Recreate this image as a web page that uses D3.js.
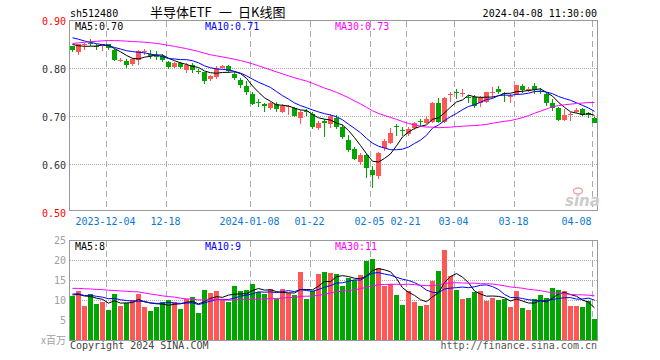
<!DOCTYPE html>
<html>
<head>
<meta charset="utf-8">
<script src="https://cdn.jsdelivr.net/npm/d3@7"></script>
<style>
  body { margin: 0; background: #fff; }
  text { font-family: 'DejaVu Sans Mono', 'Liberation Mono', monospace; font-size: 10px; }
</style>
</head>
<body>
<div id="kline"></div>
<script>
// trading days shown on the chart
var dates = [
  '2023-11-24', '2023-11-27', '2023-11-28', '2023-11-29', '2023-11-30', '2023-12-01',
  '2023-12-04', '2023-12-05', '2023-12-06', '2023-12-07', '2023-12-08',
  '2023-12-11', '2023-12-12', '2023-12-13', '2023-12-14', '2023-12-15',
  '2023-12-18', '2023-12-19', '2023-12-20', '2023-12-21', '2023-12-22',
  '2023-12-25', '2023-12-26', '2023-12-27', '2023-12-28', '2023-12-29',
  '2024-01-02', '2024-01-03', '2024-01-04', '2024-01-05',
  '2024-01-08', '2024-01-09', '2024-01-10', '2024-01-11', '2024-01-12',
  '2024-01-15', '2024-01-16', '2024-01-17', '2024-01-18', '2024-01-19',
  '2024-01-22', '2024-01-23', '2024-01-24', '2024-01-25', '2024-01-26',
  '2024-01-29', '2024-01-30', '2024-01-31', '2024-02-01', '2024-02-02',
  '2024-02-05', '2024-02-06', '2024-02-07', '2024-02-08',
  '2024-02-19', '2024-02-20', '2024-02-21', '2024-02-22', '2024-02-23',
  '2024-02-26', '2024-02-27', '2024-02-28', '2024-02-29', '2024-03-01',
  '2024-03-04', '2024-03-05', '2024-03-06', '2024-03-07', '2024-03-08',
  '2024-03-11', '2024-03-12', '2024-03-13', '2024-03-14', '2024-03-15',
  '2024-03-18', '2024-03-19', '2024-03-20', '2024-03-21', '2024-03-22',
  '2024-03-25', '2024-03-26', '2024-03-27', '2024-03-28', '2024-03-29',
  '2024-04-01', '2024-04-02', '2024-04-03', '2024-04-08'
]

var opens = [
  0.845, 0.833, 0.847, 0.853, 0.846, 0.846, 0.849, 0.838, 0.815, 0.815,
  0.809, 0.817, 0.834, 0.829, 0.828, 0.826, 0.812, 0.802, 0.810, 0.796,
  0.806, 0.793, 0.791, 0.777, 0.782, 0.801, 0.804, 0.788, 0.775, 0.763,
  0.746, 0.729, 0.724, 0.716, 0.725, 0.708, 0.718, 0.716, 0.695, 0.711,
  0.705, 0.675, 0.689, 0.683, 0.695, 0.677, 0.650, 0.632, 0.604, 0.618,
  0.588, 0.575, 0.633, 0.644, 0.679, 0.671, 0.662, 0.675, 0.689, 0.685,
  0.688, 0.727, 0.688, 0.743, 0.749, 0.746, 0.740, 0.740, 0.727, 0.730,
  0.748, 0.756, 0.748, 0.741, 0.745, 0.762, 0.753, 0.762, 0.752, 0.746,
  0.728, 0.717, 0.692, 0.704, 0.709, 0.715, 0.707, 0.696
]
var highs = [
  0.846, 0.850, 0.852, 0.860, 0.849, 0.851, 0.851, 0.840, 0.820, 0.818,
  0.821, 0.838, 0.840, 0.838, 0.835, 0.829, 0.814, 0.812, 0.813, 0.810,
  0.810, 0.798, 0.792, 0.786, 0.805, 0.807, 0.807, 0.791, 0.779, 0.772,
  0.749, 0.736, 0.728, 0.730, 0.729, 0.726, 0.723, 0.719, 0.712, 0.714,
  0.709, 0.690, 0.693, 0.705, 0.702, 0.682, 0.660, 0.636, 0.623, 0.620,
  0.595, 0.625, 0.653, 0.674, 0.683, 0.677, 0.677, 0.688, 0.693, 0.700,
  0.730, 0.737, 0.740, 0.751, 0.756, 0.757, 0.744, 0.744, 0.742, 0.749,
  0.761, 0.762, 0.751, 0.746, 0.765, 0.767, 0.760, 0.768, 0.758, 0.748,
  0.736, 0.719, 0.714, 0.708, 0.716, 0.717, 0.709, 0.698
]
var lows = [
  0.833, 0.828, 0.838, 0.845, 0.837, 0.835, 0.838, 0.815, 0.812, 0.800,
  0.805, 0.807, 0.827, 0.819, 0.816, 0.812, 0.797, 0.799, 0.797, 0.790,
  0.790, 0.787, 0.767, 0.773, 0.777, 0.799, 0.789, 0.776, 0.758, 0.744,
  0.722, 0.718, 0.709, 0.713, 0.709, 0.706, 0.703, 0.697, 0.683, 0.701,
  0.672, 0.670, 0.657, 0.674, 0.672, 0.652, 0.626, 0.608, 0.597, 0.570,
  0.549, 0.568, 0.627, 0.641, 0.658, 0.658, 0.659, 0.670, 0.680, 0.683,
  0.686, 0.685, 0.686, 0.730, 0.735, 0.740, 0.727, 0.716, 0.718, 0.727,
  0.737, 0.746, 0.730, 0.727, 0.743, 0.748, 0.751, 0.745, 0.745, 0.721,
  0.711, 0.690, 0.689, 0.689, 0.707, 0.700, 0.696, 0.685
]
var closes = [
  0.837, 0.849, 0.849, 0.849, 0.845, 0.849, 0.842, 0.817, 0.816, 0.807,
  0.819, 0.835, 0.836, 0.824, 0.823, 0.816, 0.803, 0.810, 0.802, 0.806,
  0.796, 0.792, 0.773, 0.784, 0.800, 0.805, 0.793, 0.779, 0.765, 0.751,
  0.725, 0.728, 0.721, 0.728, 0.714, 0.721, 0.720, 0.699, 0.709, 0.709,
  0.678, 0.686, 0.685, 0.700, 0.678, 0.657, 0.629, 0.611, 0.618, 0.592,
  0.578, 0.622, 0.648, 0.665, 0.677, 0.670, 0.672, 0.686, 0.687, 0.693,
  0.727, 0.688, 0.738, 0.746, 0.747, 0.748, 0.738, 0.721, 0.740, 0.749,
  0.750, 0.750, 0.746, 0.742, 0.765, 0.755, 0.757, 0.755, 0.751, 0.727,
  0.717, 0.692, 0.703, 0.705, 0.713, 0.702, 0.702, 0.685
]
// volume, millions
var volumes = [
  11.0, 12.25, 8.5, 11.5, 9.0, 9.6, 7.5, 11.5, 8.5, 9.3,
  10.0, 11.5, 8.25, 7.25, 8.25, 9.6, 10.0, 9.6, 7.75, 10.2,
  10.75, 6.8, 12.5, 11.8, 12.25, 10.0, 9.6, 13.5, 12.25, 12.5,
  14.0, 12.1, 11.5, 12.7, 10.2, 12.8, 11.8, 11.25, 17.1, 10.25,
  12.25, 16.5, 17.1, 16.8, 16.5, 13.5, 15.4, 15.0, 16.25, 19.8,
  20.25, 17.9, 13.5, 13.9, 11.25, 8.75, 12.25, 9.6, 8.5, 8.75,
  14.8, 17.25, 22.5, 16.0, 12.5, 10.25, 10.5, 12.0, 12.25, 9.75,
  10.5, 10.0, 10.25, 8.25, 12.25, 8.0, 7.5, 10.25, 11.25, 10.5,
  13.0, 12.5, 12.2, 8.5, 8.5, 8.25, 9.75, 5.25
]

// the 29 sessions before the first candle, only used for the moving averages
var priorCloses = [
  0.805, 0.812, 0.818, 0.815, 0.822, 0.826, 0.820, 0.825, 0.830,
  0.845, 0.852, 0.860, 0.858, 0.866, 0.870, 0.868, 0.875, 0.872, 0.878, 0.882,
  0.880, 0.885, 0.878, 0.872, 0.870,
  0.862, 0.855, 0.848, 0.843
]
var priorVolumes = [
  12, 11.5, 13, 12.5, 11, 12, 13.5, 12, 11.5, 12.5,
  14, 16, 15.5, 14.5, 17, 15, 14, 16, 15, 13.5,
  12, 12.5, 11, 11.5, 11.75,
  11.5, 10.5, 12, 11.25
]

var tickDates = ['2023-12-04', '2023-12-18', '2024-01-08', '2024-01-22', '2024-02-05', '2024-02-21', '2024-03-04', '2024-03-18', '2024-04-08']
var tickLabels = ['2023-12-04', '12-18', '2024-01-08', '01-22', '02-05', '02-21', '03-04', '03-18', '04-08']
var priceTicks = [0.9, 0.8, 0.7, 0.6, 0.5]
var volTicks = [25, 20, 15, 10, 5]
var maPeriods = [5, 10, 30]
var maColors = ['#000000', '#0000ff', '#ff00ff']
var titleParts = ['半导体ETF', '一', '日K线图']

var upColor = '#ff5656'
var downColor = '#00a600'
var gridColor = '#aaaaaa'

var svg = d3.select('#kline').append('svg').attr('width', 660).attr('height', 360)

// scales
var x = d3.scaleBand().domain(dates).range([69.5, 597.5]).paddingInner(1 / 6).paddingOuter(1 / 12)
var y = d3.scaleLinear().domain([0.5, 0.9]).range([212, 20])
var yVol = d3.scaleLinear().domain([0, 25]).range([340, 240])

function movingAverage(prior, values, n) {
  var all = prior.concat(values)
  return values.map(function (v, i) {
    var end = prior.length + i + 1
    return d3.mean(all.slice(end - n, end))
  })
}

// header
svg.append('text').attr('x', 70).attr('y', 16.5).text('sh512480')
var titleX = [150, 219, 238]
titleParts.forEach(function (t, k) {
  svg.append('text').attr('x', titleX[k]).attr('y', 17)
    .style('font-family', "'Noto Sans CJK SC', sans-serif").style('font-size', '13px')
    .text(t)
})
svg.append('text').attr('x', 597).attr('y', 16.5).attr('text-anchor', 'end').text('2024-04-08 11:30:00')

// horizontal grid
svg.selectAll('.pgrid').data(priceTicks.slice(1, -1)).enter().append('line')
  .attr('x1', 70).attr('x2', 597)
  .attr('y1', d => Math.round(y(d)) + 0.5).attr('y2', d => Math.round(y(d)) + 0.5)
  .attr('stroke', gridColor).attr('stroke-dasharray', '1,1')
svg.selectAll('.vgrid').data(volTicks.slice(1)).enter().append('line')
  .attr('x1', 70).attr('x2', 597)
  .attr('y1', d => yVol(d) + 0.5).attr('y2', d => yVol(d) + 0.5)
  .attr('stroke', gridColor).attr('stroke-dasharray', '1,1')

// vertical dashed grid in both panels
;[[21, 210], [241, 340]].forEach(function (span) {
  svg.selectAll(null).data(tickDates).enter().append('line')
    .attr('x1', d => x(d) + 0.5).attr('x2', d => x(d) + 0.5)
    .attr('y1', span[0]).attr('y2', span[1])
    .attr('stroke', gridColor).attr('stroke-dasharray', '6,4')
})

// panel frames
svg.append('rect').attr('x', 69.5).attr('y', 20.5).attr('width', 528).attr('height', 190)
  .attr('fill', 'none').attr('stroke', '#999')
svg.append('rect').attr('x', 69.5).attr('y', 240.5).attr('width', 528).attr('height', 100)
  .attr('fill', 'none').attr('stroke', '#999')

// price labels
svg.selectAll('.plabel').data(priceTicks).enter().append('text')
  .attr('x', 66).attr('y', d => y(d) + 5).attr('text-anchor', 'end')
  .attr('fill', (d, i) => (i === 0 || i === priceTicks.length - 1) ? '#ff0000' : '#333')
  .text(d => d.toFixed(2))

// volume labels
svg.selectAll('.vlabel').data(volTicks).enter().append('text')
  .attr('x', 66).attr('y', d => yVol(d) + 3.5).attr('text-anchor', 'end')
  .attr('fill', '#a0a0a0').text(d => d)
svg.append('text').attr('x', 66).attr('y', 344).attr('text-anchor', 'end')
  .attr('fill', '#a0a0a0').style('font-family', "'Noto Sans CJK SC', sans-serif")
  .text('x百万')

// date labels
svg.selectAll('.dlabel').data(tickDates).enter().append('text')
  .attr('x', d => x(d) - 0.5)
  .attr('y', 225)
  .attr('text-anchor', (d, i) => i === tickDates.length - 1 ? 'end' : 'middle')
  .attr('fill', '#0a78d2')
  .text((d, i) => tickLabels[i])

// candles
var candles = svg.append('g').attr('shape-rendering', 'crispEdges')
candles.selectAll('.wick').data(dates).enter().append('line')
  .attr('x1', d => x(d) + 2.5).attr('x2', d => x(d) + 2.5)
  .attr('y1', (d, i) => y(highs[i])).attr('y2', (d, i) => y(lows[i]))
  .attr('stroke', (d, i) => closes[i] >= opens[i] ? upColor : downColor)
candles.selectAll('.body').data(dates).enter().append('rect')
  .attr('x', d => x(d)).attr('width', x.bandwidth())
  .attr('y', (d, i) => y(Math.max(opens[i], closes[i])))
  .attr('height', (d, i) => Math.max(1, Math.abs(y(opens[i]) - y(closes[i]))))
  .attr('fill', (d, i) => closes[i] >= opens[i] ? upColor : downColor)

// volume bars
svg.append('g').attr('shape-rendering', 'crispEdges')
  .selectAll('rect').data(dates).enter().append('rect')
  .attr('x', d => x(d)).attr('width', x.bandwidth())
  .attr('y', (d, i) => yVol(volumes[i]))
  .attr('height', (d, i) => 340 - yVol(volumes[i]))
  .attr('fill', (d, i) => closes[i] >= opens[i] ? upColor : downColor)

// moving averages
var priceMA = maPeriods.map(n => movingAverage(priorCloses, closes, n))
var volMA = maPeriods.map(n => movingAverage(priorVolumes, volumes, n))

var priceLine = d3.line().x((d, i) => x(dates[i]) + 2.5).y(d => y(d))
var volLine = d3.line().x((d, i) => x(dates[i]) + 2.5).y(d => yVol(d))

priceMA.forEach(function (ma, k) {
  svg.append('path').attr('d', priceLine(ma)).attr('fill', 'none').attr('stroke', maColors[k]).attr('stroke-width', 1)
})
volMA.forEach(function (ma, k) {
  svg.append('path').attr('d', volLine(ma)).attr('fill', 'none').attr('stroke', maColors[k]).attr('stroke-width', 1)
})

// legends
var legendX = [75, 205, 335]
maPeriods.forEach(function (n, k) {
  var last = priceMA[k][priceMA[k].length - 1]
  svg.append('text').attr('x', legendX[k]).attr('y', 29.5).attr('fill', maColors[k])
    .text('MA' + n + ':' + last.toFixed(2))
  var lastVol = volMA[k][volMA[k].length - 1]
  svg.append('text').attr('x', legendX[k]).attr('y', 250).attr('fill', maColors[k])
    .text('MA' + n + ':' + Math.floor(lastVol))
})

// sina watermark
svg.append('ellipse').attr('cx', 578).attr('cy', 191).attr('rx', 4.5).attr('ry', 3)
  .attr('fill', 'none').attr('stroke', '#f2a5a5').attr('stroke-width', 1.5)
svg.append('text').attr('x', 565).attr('y', 206)
  .style('font-family', "'DejaVu Sans', sans-serif").style('font-size', '15px')
  .style('font-style', 'italic').style('font-weight', 'bold')
  .attr('fill', '#cccccc').text('sina')

// footer
svg.append('text').attr('x', 70).attr('y', 349).attr('fill', '#444').text('Copyright 2024 SINA.COM')
svg.append('text').attr('x', 597).attr('y', 349).attr('text-anchor', 'end').attr('fill', '#555')
  .text('http://finance.sina.com.cn')
</script>
</body>
</html>
